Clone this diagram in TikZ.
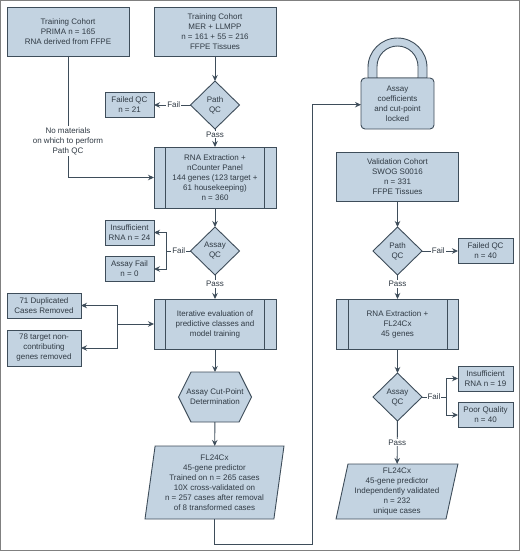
\documentclass[tikz,border=0pt]{standalone}
\usepackage{fontspec}
\setmainfont{Liberation Sans}
\usetikzlibrary{shapes.geometric,arrows.meta,calc}
\definecolor{boxfill}{HTML}{C3D3E1}
\definecolor{boxline}{HTML}{3E4D5A}
\definecolor{inktext}{HTML}{303A44}
\tikzset{
    base/.style={draw=boxline,fill=boxfill,line width=.9pt,text=inktext,align=center,
                 inner sep=0pt,outer sep=0pt,font=\fontsize{8}{10}\selectfont},
    sized/.style n args={2}{minimum width=#1,minimum height=#2},
    infobox/.style={base,rectangle},
    panelbox/.style={base,rectangle,path picture={
        \draw[boxline,line width=.9pt]
            ([xshift=11.5pt]path picture bounding box.north west) -- ([xshift=11.5pt]path picture bounding box.south west)
            ([xshift=-11.5pt]path picture bounding box.north east) -- ([xshift=-11.5pt]path picture bounding box.south east);}},
    qcdiamond/.style={base,diamond,sized={49pt}{48pt}},
    slantbox/.style={base,trapezium,trapezium stretches=true},
    flow/.style={boxline,line width=.9pt,-{Stealth[length=6pt,width=5.5pt]}},
    plain/.style={boxline,line width=.9pt},
    lab/.style={fill=white,text=inktext,inner sep=1pt,align=center,font=\fontsize{8}{10}\selectfont},
}
\begin{document}
\begin{tikzpicture}[x=1pt,y=-1pt]
    \useasboundingbox (0,0) rectangle (520,551);
    \draw[gray,line width=1pt] (.5,.5) rectangle (519.5,550.5);

    % training side
    \node[infobox,sized={122pt}{49pt}] (primacohort) at (68,31.5) {Training Cohort\\PRIMA n = 165\\RNA derived from FFPE};
    \node[infobox,sized={122pt}{49pt}] (mercohort) at (215,31.5) {Training Cohort\\MER + LLMPP\\n = 161 + 55 = 216\\FFPE Tissues};
    \node[qcdiamond] (pathqc) at (215,105) {Path\\QC};
    \node[infobox,sized={49pt}{24.5pt}] (failedqc) at (129.5,105) {Failed QC\\n = 21};
    \node[panelbox,sized={122pt}{61pt}] (rnapanel) at (215,177.5) {RNA Extraction +\\nCounter Panel\\144 genes (123 target +\\61 housekeeping)\\n = 360};
    \node[qcdiamond] (assayqc) at (215,251) {Assay\\QC};
    \node[infobox,sized={49pt}{25pt}] (insuff) at (129.5,232.5) {Insufficient\\RNA n = 24};
    \node[infobox,sized={49pt}{25pt}] (assayfail) at (129.5,269) {Assay Fail\\n = 0};
    \node[panelbox,sized={122pt}{50pt}] (iterative) at (215,324) {Iterative evaluation of\\predictive classes and\\model training};
    \node[infobox,sized={74pt}{25pt}] (duplicated) at (44,305.5) {71 Duplicated\\Cases Removed};
    \node[infobox,sized={74pt}{36pt}] (noncontrib) at (44,348) {78 target non-\\contributing\\genes removed};

    % hexagon
    \draw[plain,fill=boxfill] (178.5,397) -- (191,372) -- (239,372) -- (251.5,397) -- (239,422) -- (191,422) -- cycle;
    \node[infobox,draw=none,fill=none,sized={73pt}{50pt}] (cutpoint) at (215,397) {Assay Cut-Point\\Determination};
    \node[slantbox,trapezium left angle=81.4,trapezium right angle=98.6,sized={139pt}{73pt}] (predictor) at (214.5,482.5) {FL24Cx\\45-gene predictor\\Trained on n = 265 cases\\10X cross-validated on\\n = 257 cases after removal\\of 8 transformed cases};

    % lock
    \draw[plain,fill=boxfill] (368,78) -- (368,67.5) arc[start angle=180,end angle=0,radius=29.5pt] -- (427,78) -- cycle;
    \draw[plain,fill=white] (377,78) -- (377,66.5) arc[start angle=180,end angle=0,radius=20.5pt] -- (418,78) -- cycle;
    \node[infobox,rounded corners=4pt,sized={73pt}{51pt}] (lock) at (397.5,103.5) {Assay\\coefficients\\and cut-point\\locked};

    % validation side
    \node[infobox,sized={122pt}{49pt}] (swogcohort) at (397.5,177) {Validation Cohort\\SWOG S0016\\n = 331\\FFPE Tissues};
    \node[qcdiamond] (pathqcb) at (397.5,251) {Path\\QC};
    \node[infobox,sized={55pt}{24.5pt}] (failedqcb) at (485.5,251) {Failed QC\\n = 40};
    \node[panelbox,sized={122pt}{50pt}] (rnafl) at (397.5,324) {RNA Extraction +\\FL24Cx\\45 genes};
    \node[qcdiamond] (assayqcb) at (397.5,397) {Assay\\QC};
    \node[infobox,sized={55pt}{25pt}] (insuffb) at (485.5,378.5) {Insufficient\\RNA n = 19};
    \node[infobox,sized={55pt}{25pt}] (poor) at (485.5,415) {Poor Quality\\n = 40};
    \node[slantbox,trapezium left angle=77.7,trapezium right angle=102.3,sized={122pt}{55pt}] (validated) at (397,491.5) {FL24Cx\\45-gene predictor\\Independently validated\\n = 232\\unique cases};

    % helper points for the branches
    \coordinate (failfork) at (166,251);
    \coordinate (iterfork) at (117,324);
    \coordinate (failforkb) at (446,397);
    \coordinate (lowturn) at (312,544);

    \draw[flow] (mercohort) -- (pathqc);
    \draw[flow] (pathqc) -- node[lab,pos=.46] {Fail} (failedqc);
    \draw[flow] (pathqc) -- node[lab,pos=.3] {Pass} (rnapanel);
    \draw[flow] (primacohort) |- node[lab,pos=.35] {No materials\\on which to perform\\Path QC} (rnapanel);
    \draw[flow] (rnapanel) -- (assayqc);
    \draw[plain] (assayqc) -- node[lab,pos=.48] {Fail} (failfork);
    \draw[flow] (failfork) |- (insuff);
    \draw[flow] (failfork) |- (assayfail);
    \draw[flow] (assayqc) -- node[lab,pos=.38] {Pass} (iterative);
    \draw[flow] (iterfork) -- (iterative);
    \draw[flow] (iterfork) |- (duplicated);
    \draw[flow] (iterfork) |- (noncontrib);
    \draw[flow] (iterative) -- (cutpoint);
    \draw[flow] (cutpoint) -- (predictor);
    \draw[flow] (predictor.south) |- (lowturn) |- ([yshift=-1.2pt]lock.west);

    \draw[flow] (swogcohort) -- (pathqcb);
    \draw[flow] (pathqcb) -- node[lab,pos=.45] {Fail} (failedqcb);
    \draw[flow] (pathqcb) -- node[lab,pos=.38] {Pass} (rnafl);
    \draw[flow] (rnafl) -- (assayqcb);
    \draw[plain] (assayqcb) -- node[lab,pos=.5] {Fail} (failforkb);
    \draw[flow] (failforkb) |- (insuffb);
    \draw[flow] (failforkb) |- (poor);
    \draw[flow] (assayqcb) -- node[lab,pos=.5] {Pass} (validated);
\end{tikzpicture}
\end{document}
